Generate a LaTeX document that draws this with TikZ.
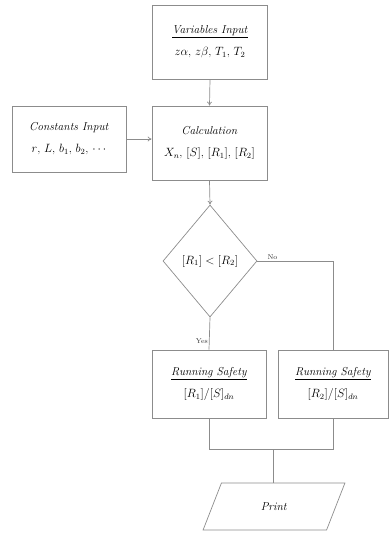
\documentclass[tikz,border=0pt]{standalone}
\usetikzlibrary{shapes.geometric, arrows.meta}

\begin{document}
\begin{tikzpicture}[x=1pt,y=-1pt,
        line/.style={draw=black!45, line width=0.7pt},
        box/.style={line, rectangle, inner sep=0pt, align=center, font=\fontsize{11.5}{14}\selectfont},
        decide/.style={line, diamond, inner sep=0pt, font=\fontsize{11.5}{14}\selectfont},
        inout/.style={line, trapezium, trapezium left angle=60, trapezium right angle=120,
          trapezium stretches=true, inner sep=0pt, font=\fontsize{11.5}{14}\selectfont},
        flow/.style={line, -{To[length=4pt,width=5pt]}},
        tag/.style={font=\fontsize{7}{8}\selectfont, text=black!80, inner sep=1pt}]
        \useasboundingbox (0,0) rectangle (390,533);

        \node[box, minimum width=115, minimum height=74] (var) at (210,42)
          {\underline{\textit{Variables Input}}\\[8pt] $z\alpha$, $z\beta$, $T_1$, $T_2$};
        \node[box, minimum width=114, minimum height=66] (const) at (69,139)
          {\textit{Constants Input}\\[8pt] $r$, $L$, $b_1$, $b_2$, $\cdots$};
        \node[box, minimum width=115, minimum height=74] (calc) at (209.5,143)
          {\textit{Calculation}\\[8pt] $X_n$, $[S]$, $[R_1]$, $[R_2]$};

        \node[decide, minimum width=94, minimum height=112] (check) at (210,261)
          {$[R_1] < [R_2]$};

        \node[box, minimum width=114, minimum height=68] (safe1) at (209,384)
          {\underline{\textit{Running Safety}}\\[8pt] $[R_1]/[S]_{dn}$};
        \node[box, minimum width=110, minimum height=68] (safe2) at (333,384)
          {\underline{\textit{Running Safety}}\\[8pt] $[R_2]/[S]_{dn}$};

        \coordinate (join) at (273,449);
        \node[inout, minimum width=142, minimum height=47] (print) at (274,506.5)
          {\textit{Print}};

        % connectors
        \draw[flow] (var.south) -- (calc.north);
        \draw[flow] (const.east) -- (const.east -| calc.west);
        \draw[flow] (calc.south) -- (check.north);
        \draw[line] (check.east) -| node[tag, pos=0.1, above] {No} (safe2.north);
        \draw[line] (check.south) -- node[tag, pos=0.75, left] {Yes} (safe1.north);
        \draw[line] (safe1.south) |- (join);
        \draw[line] (safe2.south) |- (join);
        \draw[line] (join) -- (join |- print.north);
      \end{tikzpicture}
\end{document}
